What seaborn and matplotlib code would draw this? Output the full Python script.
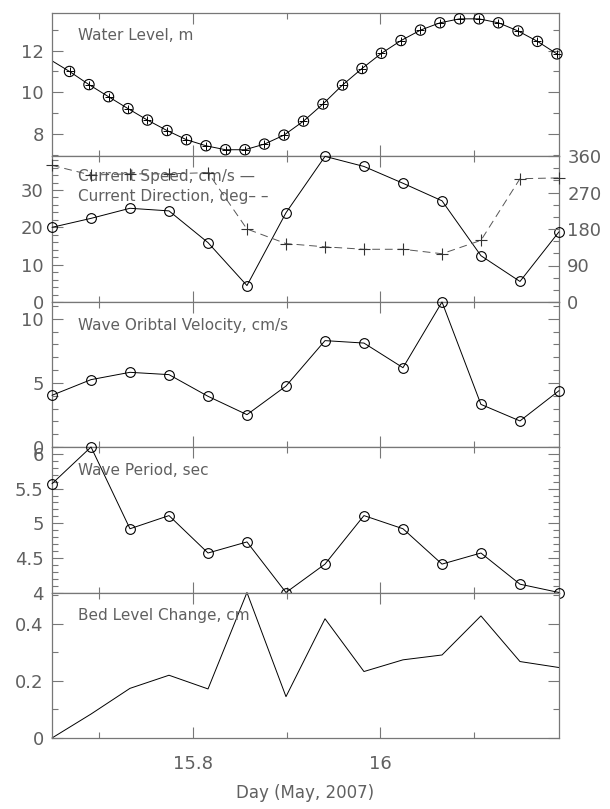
import numpy as np
import matplotlib
matplotlib.use('Agg')
import matplotlib.pyplot as plt
from matplotlib.ticker import MultipleLocator, FormatStrFormatter
import seaborn as sns

sns.set_style('ticks')
plt.rcParams['font.family'] = ['DejaVu Sans']

# hourly sample times (day of May 2007)
hours = [15.6493, 15.6910, 15.7326, 15.7743, 15.8160, 15.8576, 15.8993,
         15.9410, 15.9826, 16.0243, 16.0660, 16.1076, 16.1493, 16.1910]

# half-hourly water level samples
wl_time = [15.6680, 15.6888, 15.7097, 15.7305, 15.7513, 15.7722, 15.7930,
           15.8138, 15.8347, 15.8555, 15.8763, 15.8972, 15.9180, 15.9388,
           15.9597, 15.9805, 16.0013, 16.0222, 16.0430, 16.0638, 16.0847,
           16.1055, 16.1263, 16.1472, 16.1680, 16.1888]
wl = [11.00, 10.37, 9.79, 9.22, 8.67, 8.17, 7.73, 7.44, 7.25, 7.25, 7.52,
      7.95, 8.62, 9.44, 10.35, 11.14, 11.87, 12.48, 12.98, 13.33, 13.52,
      13.52, 13.33, 12.94, 12.44, 11.84]
wl_start = 11.51  # level at the first hourly time (line only)

cur_speed = [20.0, 22.4, 25.1, 24.4, 15.9, 4.4, 23.9, 39.0, 36.3, 31.8,
             27.1, 12.4, 5.5, 18.8]
cur_dir = [337, 313, 316, 316, 319, 180, 144, 136, 130, 130, 119, 152,
           304, 306]
wave_vel = [4.03, 5.25, 5.82, 5.64, 3.95, 2.52, 4.75, 8.29, 8.10, 6.18,
            11.3, 3.32, 2.03, 4.39]
wave_per = [5.57, 6.10, 4.92, 5.11, 4.57, 4.73, 4.00, 4.41, 5.11, 4.92,
            4.41, 4.57, 4.12, 4.00]
bed = [0.0, 0.084, 0.174, 0.22, 0.172, 0.51, 0.145, 0.418, 0.233, 0.274,
       0.291, 0.428, 0.268, 0.247]

TXT = '#606060'
EDGE = '#777777'
W, H = 610, 809
fig = plt.figure(figsize=(W / 100, H / 100), dpi=100)

left, right = 52, 559
edges = [13, 156, 302, 447, 592.5, 738]
axes = []
for i in range(5):
    top, bot = edges[i], edges[i + 1]
    ax = fig.add_axes([left / W, 1 - bot / H, (right - left) / W, (bot - top) / H])
    axes.append(ax)

def style(ax, ylo, yhi, major, minor, fmt='%g', right_ticks=True):
    ax.set_xlim(hours[0], hours[-1])
    ax.set_ylim(ylo, yhi)
    ax.xaxis.set_major_locator(MultipleLocator(0.2))
    ax.xaxis.set_minor_locator(MultipleLocator(0.1))
    ax.xaxis.set_major_formatter(FormatStrFormatter('%g'))
    ax.yaxis.set_major_locator(MultipleLocator(major))
    ax.yaxis.set_minor_locator(MultipleLocator(minor))
    ax.yaxis.set_major_formatter(FormatStrFormatter(fmt))
    ax.tick_params(which='both', direction='in', top=True, right=right_ticks,
                   color=EDGE, labelcolor=TXT, labelsize=13, width=0.8)
    ax.tick_params(which='major', length=8, pad=6)
    ax.tick_params(which='minor', length=4)
    ax.set_xlabel('')
    ax.set_ylabel('')
    for s in ax.spines.values():
        s.set_color(EDGE)
        s.set_linewidth(0.9)

def label(ax, text):
    ax.text(0.051, 0.84, text, transform=ax.transAxes, fontsize=11,
            color=TXT, va='center', ha='left')

def circles(ax, x, y):
    sns.lineplot(x=x, y=y, ax=ax, color='black', lw=0.7, marker='o',
                 markersize=7, markerfacecolor='none', markeredgecolor='black',
                 markeredgewidth=0.8, clip_on=False, zorder=3)

# water level
ax = axes[0]
sns.lineplot(x=[hours[0]] + wl_time, y=[wl_start] + wl, ax=ax, color='black', lw=0.7)
sns.scatterplot(x=wl_time, y=wl, ax=ax, marker='o', s=55, facecolor='none',
                edgecolor='black', linewidth=0.8, clip_on=False, zorder=3)
sns.scatterplot(x=wl_time, y=wl, ax=ax, marker='+', s=40, color='black',
                linewidth=0.7, clip_on=False, zorder=3)
style(ax, 6.95, 13.8, 2, 1)
label(ax, 'Water Level, m')

# current speed and direction
ax = axes[1]
circles(ax, hours, cur_speed)
style(ax, 0, 39.1, 10, 2, right_ticks=False)
ax2 = ax.twinx()
sns.lineplot(x=hours, y=cur_dir, ax=ax2, color='#555555', lw=0.7,
             dashes=False, linestyle=(0, (8, 5)), marker='+', markersize=9,
             markeredgewidth=0.8, markeredgecolor='#333333', clip_on=False)
ax2.set_ylim(0, 360)
ax2.yaxis.set_major_locator(MultipleLocator(90))
ax2.yaxis.set_minor_locator(MultipleLocator(30))
ax2.tick_params(which='both', direction='in', color=EDGE, labelcolor=TXT,
                labelsize=13, width=0.8)
ax2.tick_params(which='major', length=8, pad=6)
ax2.tick_params(which='minor', length=4)
ax2.set_ylabel('')
for s in ax2.spines.values():
    s.set_visible(False)
ax.text(0.051, 0.86, 'Current Speed, cm/s \u2014', transform=ax.transAxes,
        fontsize=11, color=TXT, va='center', ha='left', zorder=5)
ax.text(0.051, 0.72, 'Current Direction, deg\u2013 \u2013', transform=ax.transAxes,
        fontsize=11, color=TXT, va='center', ha='left', zorder=5)

# wave orbital velocity
ax = axes[2]
circles(ax, hours, wave_vel)
style(ax, 0, 11.3, 5, 1)
label(ax, 'Wave Oribtal Velocity, cm/s')

# wave period
ax = axes[3]
circles(ax, hours, wave_per)
style(ax, 4, 6.1, 0.5, 0.1)
label(ax, 'Wave Period, sec')

# bed level change
ax = axes[4]
sns.lineplot(x=hours, y=bed, ax=ax, color='black', lw=0.7, clip_on=False)
style(ax, 0, 0.51, 0.2, 0.1)
label(ax, 'Bed Level Change, cm')
ax.set_xlabel('Day (May, 2007)', fontsize=12, color=TXT, labelpad=8)

for ax in axes[:4]:
    ax.tick_params(labelbottom=False)
axes[4].tick_params(axis='x', pad=12)

fig.savefig('out.png', dpi=100)
